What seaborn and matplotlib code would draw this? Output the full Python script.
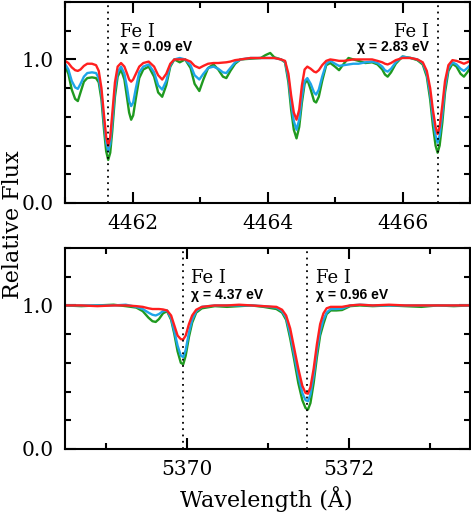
"""
Fe I line profiles for three stars, two wavelength windows
"""
import matplotlib
matplotlib.use('Agg')
import matplotlib.pyplot as plt
from matplotlib.ticker import MultipleLocator, FormatStrFormatter
import pandas as pd
import seaborn as sns

# --- top window (4461-4467 A) ---
wave_top = [4461.00, 4461.05, 4461.10, 4461.15, 4461.19, 4461.23, 4461.28, 4461.33, 4461.40, 4461.46,
            4461.50, 4461.54, 4461.58, 4461.61, 4461.64, 4461.67, 4461.70, 4461.74, 4461.78, 4461.83,
            4461.88, 4461.92, 4461.95, 4461.98, 4462.01, 4462.05, 4462.10, 4462.16, 4462.24, 4462.32,
            4462.38, 4462.44, 4462.50, 4462.56, 4462.62, 4462.70, 4462.78, 4462.86, 4462.92, 4462.99,
            4463.05, 4463.12, 4463.20, 4463.27, 4463.34, 4463.39, 4463.45, 4463.52, 4463.60, 4463.75,
            4463.90, 4463.97, 4464.04, 4464.10, 4464.20, 4464.26, 4464.31, 4464.35, 4464.39, 4464.43,
            4464.47, 4464.51, 4464.55, 4464.59, 4464.64, 4464.69, 4464.72, 4464.76, 4464.81, 4464.87,
            4464.93, 4465.00, 4465.06, 4465.13, 4465.20, 4465.27, 4465.35, 4465.45, 4465.55, 4465.63,
            4465.70, 4465.74, 4465.78, 4465.83, 4465.90, 4466.00, 4466.12, 4466.22, 4466.30, 4466.36,
            4466.41, 4466.45, 4466.49, 4466.52, 4466.55, 4466.59, 4466.63, 4466.68, 4466.74, 4466.80,
            4466.86, 4466.91, 4466.96, 4467.00]
red_top = [0.99, 0.975, 0.945, 0.925, 0.92, 0.93, 0.955, 0.97, 0.97, 0.96,
           0.92, 0.80, 0.60, 0.46, 0.40, 0.46, 0.62, 0.84, 0.95, 0.975,
           0.95, 0.90, 0.86, 0.845, 0.86, 0.90, 0.95, 0.975, 0.985, 0.95,
           0.89, 0.86, 0.90, 0.97, 1.00, 1.00, 1.00, 0.985, 0.955, 0.94,
           0.955, 0.97, 0.975, 0.975, 0.978, 0.98, 0.985, 0.995, 1.00, 1.01,
           1.01, 1.01, 1.01, 1.01, 1.00, 0.99, 0.90, 0.75, 0.63, 0.58,
           0.65, 0.82, 0.93, 0.95, 0.935, 0.915, 0.91, 0.925, 0.96, 0.99,
           1.00, 0.995, 0.99, 0.99, 0.995, 1.00, 1.00, 1.00, 1.00, 0.99,
           0.98, 0.97, 0.965, 0.975, 0.995, 1.01, 1.01, 1.00, 0.98, 0.92,
           0.80, 0.65, 0.53, 0.48, 0.53, 0.68, 0.85, 0.96, 0.995, 0.99,
           0.98, 0.97, 0.98, 0.99]
blue_top = [0.97, 0.93, 0.85, 0.805, 0.795, 0.83, 0.88, 0.905, 0.91, 0.905,
            0.87, 0.76, 0.55, 0.42, 0.36, 0.41, 0.56, 0.79, 0.91, 0.95,
            0.90, 0.80, 0.71, 0.675, 0.70, 0.80, 0.91, 0.95, 0.965, 0.91,
            0.82, 0.79, 0.85, 0.96, 1.00, 1.01, 1.00, 0.96, 0.89, 0.86,
            0.90, 0.94, 0.95, 0.935, 0.91, 0.905, 0.94, 0.98, 1.00, 1.01,
            1.01, 1.01, 1.01, 1.01, 1.00, 0.985, 0.87, 0.70, 0.57, 0.51,
            0.58, 0.74, 0.85, 0.87, 0.83, 0.77, 0.755, 0.79, 0.88, 0.97,
            0.99, 0.97, 0.955, 0.96, 0.965, 0.97, 0.97, 0.98, 0.985, 0.975,
            0.95, 0.925, 0.915, 0.935, 0.98, 1.02, 1.01, 1.00, 0.975, 0.90,
            0.76, 0.60, 0.47, 0.42, 0.47, 0.62, 0.81, 0.94, 0.98, 0.965,
            0.935, 0.92, 0.94, 0.96]
green_top = [0.955, 0.90, 0.79, 0.725, 0.71, 0.77, 0.845, 0.87, 0.875, 0.87,
             0.84, 0.72, 0.50, 0.36, 0.30, 0.35, 0.50, 0.74, 0.88, 0.93,
             0.86, 0.73, 0.63, 0.58, 0.61, 0.73, 0.87, 0.93, 0.95, 0.88,
             0.77, 0.74, 0.82, 0.95, 1.00, 0.98, 1.00, 0.94, 0.83, 0.78,
             0.86, 0.94, 0.965, 0.93, 0.88, 0.87, 0.92, 0.97, 1.00, 1.005,
             1.01, 1.03, 1.045, 1.015, 1.00, 0.98, 0.84, 0.65, 0.51, 0.45,
             0.53, 0.70, 0.83, 0.86, 0.79, 0.71, 0.70, 0.74, 0.85, 0.96,
             0.975, 0.95, 0.925, 0.97, 1.01, 1.00, 0.99, 0.975, 0.98, 0.965,
             0.93, 0.895, 0.88, 0.91, 0.97, 1.02, 1.01, 0.995, 0.965, 0.88,
             0.72, 0.54, 0.40, 0.35, 0.40, 0.56, 0.77, 0.92, 0.97, 0.95,
             0.90, 0.88, 0.91, 0.94]

# --- bottom window (5368.5-5373.5 A) ---
wave_bot = [5368.50, 5368.70, 5368.90, 5369.10, 5369.25, 5369.38, 5369.46, 5369.53, 5369.58, 5369.62,
            5369.66, 5369.71, 5369.76, 5369.81, 5369.85, 5369.89, 5369.93, 5369.96, 5369.99, 5370.03,
            5370.07, 5370.12, 5370.19, 5370.35, 5370.50, 5370.65, 5370.80, 5370.95, 5371.11, 5371.18,
            5371.23, 5371.28, 5371.33, 5371.38, 5371.43, 5371.47, 5371.50, 5371.53, 5371.57, 5371.61,
            5371.65, 5371.69, 5371.73, 5371.78, 5371.85, 5371.92, 5372.02, 5372.14, 5372.30, 5372.50,
            5372.70, 5372.90, 5373.10, 5373.30, 5373.50]
red_bot = [1.00, 1.00, 0.995, 1.00, 1.00, 0.995, 0.99, 0.98, 0.975, 0.975,
           0.975, 0.972, 0.965, 0.93, 0.86, 0.79, 0.765, 0.763, 0.79, 0.87,
           0.93, 0.97, 0.99, 1.00, 1.00, 1.005, 1.00, 0.995, 0.99, 0.97,
           0.93, 0.84, 0.70, 0.56, 0.44, 0.39, 0.385, 0.43, 0.56, 0.73,
           0.87, 0.944, 0.98, 0.99, 0.99, 0.99, 1.00, 1.005, 1.00, 1.005,
           1.00, 1.00, 1.00, 1.00, 1.00]
blue_bot = [1.00, 1.00, 1.00, 1.00, 1.005, 0.99, 0.975, 0.95, 0.935, 0.93,
            0.94, 0.96, 0.965, 0.91, 0.82, 0.72, 0.65, 0.64, 0.69, 0.81,
            0.90, 0.96, 0.99, 1.00, 1.00, 1.00, 1.00, 0.995, 0.985, 0.96,
            0.915, 0.80, 0.655, 0.51, 0.39, 0.34, 0.333, 0.38, 0.51, 0.685,
            0.82, 0.90, 0.95, 0.975, 0.975, 0.978, 1.00, 1.005, 1.00, 1.00,
            1.00, 1.00, 1.00, 1.00, 1.00]
green_bot = [1.00, 0.995, 1.00, 1.005, 0.995, 0.985, 0.96, 0.915, 0.89, 0.885,
             0.905, 0.945, 0.96, 0.90, 0.80, 0.68, 0.60, 0.59, 0.65, 0.78,
             0.88, 0.95, 0.98, 0.995, 0.99, 0.995, 1.00, 0.99, 0.975, 0.95,
             0.90, 0.77, 0.62, 0.46, 0.34, 0.285, 0.275, 0.32, 0.46, 0.64,
             0.79, 0.87, 0.94, 0.965, 0.965, 0.968, 0.995, 1.00, 0.995, 1.00,
             0.995, 0.99, 1.00, 0.995, 1.00]

line_top = [4461.64, 4466.53]
line_bot = [5369.96, 5371.49]
labels_top = ['\u03c7 = 0.09 eV', '\u03c7 = 2.83 eV']
labels_bot = ['\u03c7 = 4.37 eV', '\u03c7 = 0.96 eV']

colors = {'green': '#1f9a1f', 'blue': '#1ea5e8', 'red': '#ff1f1f'}

sns.set_theme(style='ticks')
plt.rcParams['font.family'] = ['DejaVu Serif']
plt.rcParams['text.color'] = 'black'
plt.rcParams['axes.labelcolor'] = 'black'
plt.rcParams['xtick.color'] = 'black'
plt.rcParams['ytick.color'] = 'black'


def _style_axes(ax, xlim):
	"""Frame, inward ticks on all sides, IDL look."""
	ax.set_xlim(*xlim)
	ax.set_ylim(0, 1.4)
	ax.xaxis.set_major_locator(MultipleLocator(2))
	ax.xaxis.set_minor_locator(MultipleLocator(1))
	ax.yaxis.set_major_locator(MultipleLocator(1))
	ax.yaxis.set_minor_locator(MultipleLocator(0.2))
	ax.yaxis.set_major_formatter(FormatStrFormatter('%.1f'))
	ax.xaxis.set_major_formatter(FormatStrFormatter('%d'))
	ax.tick_params(which='both', direction='in', top=True, right=True, width=1.5,
	               labelsize=14.5, colors='black', labelcolor='black')
	ax.tick_params(which='major', length=8, pad=8)
	ax.tick_params(which='minor', length=4)
	for sp in ax.spines.values():
		sp.set_linewidth(1.5)
		sp.set_color('black')
	ax.set_xlabel('')
	ax.set_ylabel('')


def _plot_panel(ax, wave, green, blue, red):
	df = pd.DataFrame({'wave': wave, 'green': green, 'blue': blue, 'red': red})
	for name in ['green', 'blue', 'red']:
		sns.lineplot(data=df, x='wave', y=name, color=colors[name], lw=1.7, ax=ax,
		             sort=False, estimator=None)


fig = plt.figure(figsize=(4.71, 5.13), dpi=100)
ax1 = fig.add_axes([65 / 471, 1 - 203 / 513, 405 / 471, 201 / 513])
ax2 = fig.add_axes([65 / 471, 1 - 449 / 513, 405 / 471, 201 / 513])

_plot_panel(ax1, wave_top, green_top, blue_top, red_top)
_plot_panel(ax2, wave_bot, green_bot, blue_bot, red_bot)

for x in line_top:
	ax1.axvline(x, color='black', ls=(0, (1, 2.5)), lw=1.3)
for x in line_bot:
	ax2.axvline(x, color='black', ls=(0, (1, 2.5)), lw=1.3)

_style_axes(ax1, (4461.0, 4467.0))
_style_axes(ax2, (5368.5, 5373.5))

fe_kw = dict(fontsize=13, family='DejaVu Serif', color='black')
chi_kw = dict(fontsize=10, family='Liberation Sans', fontweight='bold', color='black')

ax1.text(4461.82, 1.159, 'Fe I', ha='left', **fe_kw)
ax1.text(4461.81, 1.058, labels_top[0], ha='left', **chi_kw)
ax1.text(4466.39, 1.159, 'Fe I', ha='right', **fe_kw)
ax1.text(4466.39, 1.058, labels_top[1], ha='right', **chi_kw)

ax2.text(5370.05, 1.155, 'Fe I', ha='left', **fe_kw)
ax2.text(5370.05, 1.045, labels_bot[0], ha='left', **chi_kw)
ax2.text(5371.60, 1.155, 'Fe I', ha='left', **fe_kw)
ax2.text(5371.60, 1.045, labels_bot[1], ha='left', **chi_kw)

fig.text(0.028, 0.5614, 'Relative Flux', rotation=90, ha='center', va='center',
         fontsize=16, color='black')
fig.text(0.566, 0.0125, 'Wavelength (\u00c5)', ha='center', va='baseline',
         fontsize=16, color='black')

fig.savefig('out.png', dpi=100)
